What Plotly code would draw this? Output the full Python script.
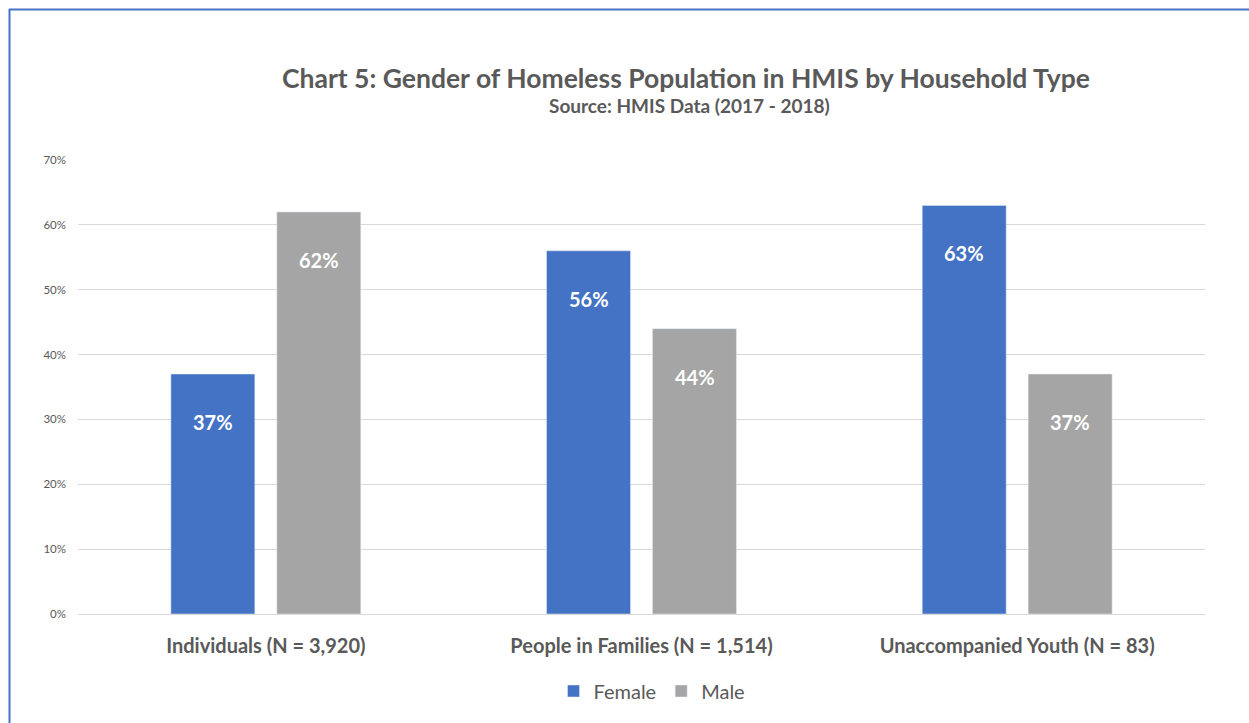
import plotly.graph_objects as go

# Household types and gender shares (percent)
categories = ["Individuals (N = 3,920)", "People in Families (N = 1,514)", "Unaccompanied Youth (N = 83)"]
female = [37, 56, 63]
male = [62, 44, 37]
tick_vals = [0, 10, 20, 30, 40, 50, 60, 70]
tick_text = ["0%", "10%", "20%", "30%", "40%", "50%", "60%", "70%"]

BLUE = "#4472C4"
GREY = "#A5A5A5"
TEXT = "#595959"
FONT = "Lato, Open Sans, sans-serif"

W, H = 1249, 723
L, R, T, B = 78, 44, 160, 109

fig = go.Figure()
fig.add_trace(go.Bar(name="Female", x=categories, y=female, marker_color=BLUE))
fig.add_trace(go.Bar(name="Male", x=categories, y=male, marker_color=GREY))

# value labels just inside the top of each bar
for idx, vals in enumerate([female, male]):
    for c, v in zip(categories, vals):
        fig.add_annotation(
            x=c, y=v, text=f"<b>{v}%</b>", showarrow=False,
            xshift=(-53 if idx == 0 else 53), yshift=-48,
            font=dict(family=FONT, size=20, color="white"),
        )

pw, ph = W - L - R, H - T - B

def px_x(x):
    return (x - L) / pw

def px_y(y):
    return (H - B - y) / ph

# frame around the chart
fig.add_shape(type="line", xref="paper", yref="paper",
              x0=px_x(9), x1=px_x(1260), y0=px_y(9.5), y1=px_y(9.5),
              line=dict(color=BLUE, width=2))
fig.add_shape(type="line", xref="paper", yref="paper",
              x0=px_x(9.5), x1=px_x(9.5), y0=px_y(9), y1=px_y(740),
              line=dict(color=BLUE, width=2))

fig.add_annotation(
    xref="paper", yref="paper", x=px_x(686), y=px_y(78), yanchor="middle",
    text="<b>Chart 5: Gender of Homeless Population in HMIS by Household Type</b>",
    showarrow=False, font=dict(family=FONT, size=26.5, color=TEXT),
)
fig.add_annotation(
    xref="paper", yref="paper", x=px_x(689), y=px_y(106), yanchor="middle",
    text="<b>Source: HMIS Data (2017 - 2018)</b>",
    showarrow=False, font=dict(family=FONT, size=19, color=TEXT),
)

fig.update_layout(
    width=W, height=H,
    margin=dict(l=L, r=R, t=T, b=B),
    paper_bgcolor="white", plot_bgcolor="white",
    barmode="group", bargap=0.436, bargroupgap=0.2075,
    font=dict(family=FONT, color=TEXT),
    showlegend=True,
    legend=dict(orientation="h", x=px_x(652), y=px_y(691), xanchor="center", yanchor="middle",
                font=dict(family=FONT, size=20, color=TEXT), traceorder="normal"),
    xaxis=dict(showline=False, ticks="", tickfont=dict(family=FONT, size=20, color=TEXT),
               ticklabelstandoff=18),
    yaxis=dict(range=[0, 70], tickvals=tick_vals, ticktext=tick_text,
               showgrid=True, gridcolor="#D9D9D9", gridwidth=1,
               zeroline=True, zerolinecolor="#D9D9D9", zerolinewidth=1,
               tickfont=dict(family=FONT, size=11.5, color=TEXT), ticklabelstandoff=11),
)
fig.update_xaxes(tickprefix="<b>", ticksuffix="</b>")

fig.write_html("out.html")
